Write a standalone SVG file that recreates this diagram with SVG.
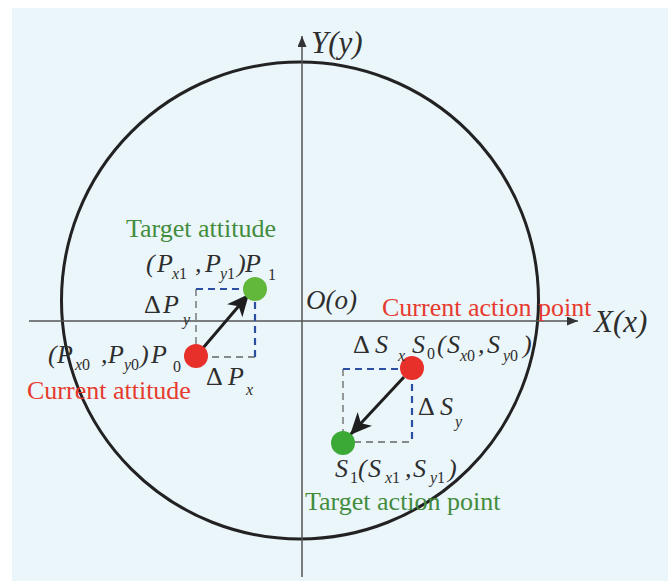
<svg xmlns="http://www.w3.org/2000/svg" width="668" height="581" viewBox="0 0 668 581">
<style>
.m{font-family:"Liberation Serif","Times New Roman",serif;font-style:italic;fill:#2e2e2e;font-size:26px}
.s{font-size:16px}
.n{font-style:normal}
.ax{font-family:"Liberation Serif","Times New Roman",serif;font-style:italic;fill:#2e2e2e;font-size:31px}
.red{font-family:"Liberation Serif","Times New Roman",serif;fill:#e63a2e;font-size:26px}
.grn{font-family:"Liberation Serif","Times New Roman",serif;fill:#438c3e;font-size:26px}
.axis{stroke:#555;stroke-width:1.5;fill:none}
.blue{stroke:#2c4ea3;stroke-width:2.2;stroke-dasharray:7 5;fill:none}
.gray{stroke:#666;stroke-width:1.3;stroke-dasharray:7 5;fill:none}
.arr{stroke:#1e1e1e;stroke-width:3;fill:none}
</style>
<defs>
<marker id="ah" markerUnits="userSpaceOnUse" markerWidth="26" markerHeight="22" refX="22" refY="10" orient="auto">
<path d="M0,0 L22,10 L0,20 L6,10 z" fill="#1e1e1e"/>
</marker>
<marker id="sa" markerUnits="userSpaceOnUse" markerWidth="12" markerHeight="10" refX="11" refY="4.5" orient="auto">
<path d="M0,0 L11,4.5 L0,9 z" fill="#333"/>
</marker>
</defs>
<rect x="12" y="8" width="656" height="573" fill="#ebf6fb"/>
<g id="axes">
<circle cx="300" cy="300.5" r="238.5" fill="none" stroke="#222" stroke-width="3"/>
<line class="axis" x1="29" y1="321" x2="578" y2="321" marker-end="url(#sa)"/>
<line class="axis" x1="302" y1="577" x2="302" y2="36" marker-end="url(#sa)"/>
<text class="ax" x="311" y="53">Y(y)</text>
<text class="ax" x="594" y="332">X(x)</text>
<text class="m" x="306" y="309" style="font-size:27px">O(o)</text>
</g>
<g id="connectors">
<path class="gray" d="M196,289 V357 H255"/>
<path class="blue" d="M196,289 H255 V357"/>
<path class="gray" d="M343,369 V442 H412"/>
<path class="blue" d="M343,369 H412 V442"/>
<line class="arr" x1="203" y1="348" x2="249" y2="294" marker-end="url(#ah)"/>
<line class="arr" x1="404" y1="377" x2="350" y2="435" marker-end="url(#ah)"/>
</g>
<g id="P1">
<circle cx="255" cy="289" r="12" fill="#62b83a"/>
<text class="grn" x="126" y="237">Target attitude</text>
<text class="m"><tspan x="146" y="272">(</tspan><tspan x="157" y="272">P</tspan><tspan class="s" x="172" y="279">x</tspan><tspan class="s n">1</tspan><tspan x="195" y="272">,</tspan><tspan x="205" y="272">P</tspan><tspan class="s" x="220" y="279">y</tspan><tspan class="s n">1</tspan><tspan x="237" y="272">)</tspan><tspan x="245" y="272">P</tspan><tspan class="s n" x="268" y="280">1</tspan></text>
<text class="m"><tspan class="n" x="144" y="313">Δ</tspan><tspan x="163" y="313">P</tspan><tspan class="s" x="183" y="325">y</tspan></text>
</g>
<g id="P0">
<circle cx="196" cy="356" r="12" fill="#e8302a"/>
<text class="red" x="27" y="399">Current attitude</text>
<text class="m"><tspan x="48" y="363">(</tspan><tspan x="57" y="363">P</tspan><tspan class="s" x="75" y="370">x</tspan><tspan class="s n">0</tspan><tspan x="101" y="363">,</tspan><tspan x="108" y="363">P</tspan><tspan class="s" x="124" y="370">y</tspan><tspan class="s n">0</tspan><tspan x="140" y="363">)</tspan><tspan x="151" y="363">P</tspan><tspan class="s n" x="173" y="372">0</tspan></text>
<text class="m"><tspan class="n" x="206" y="385">Δ</tspan><tspan x="228" y="385">P</tspan><tspan class="s" x="246" y="395">x</tspan></text>
</g>
<g id="S0">
<circle cx="412" cy="368" r="12" fill="#e8302a"/>
<text class="red" x="382" y="316">Current action point</text>
<text class="m"><tspan class="n" x="353" y="353">Δ</tspan><tspan x="375" y="353">S</tspan><tspan class="s" x="398" y="361">x</tspan></text>
<text class="m"><tspan x="412" y="353">S</tspan><tspan class="s n" x="427" y="359">0</tspan><tspan x="437" y="353">(</tspan><tspan x="447" y="353">S</tspan><tspan class="s" x="460" y="361">x</tspan><tspan class="s n">0</tspan><tspan x="478" y="353">,</tspan><tspan x="487" y="353">S</tspan><tspan class="s" x="503" y="361">y</tspan><tspan class="s n">0</tspan><tspan x="523" y="353">)</tspan></text>
<text class="m"><tspan class="n" x="418" y="415">Δ</tspan><tspan x="440" y="415">S</tspan><tspan class="s" x="455" y="427">y</tspan></text>
</g>
<g id="S1">
<circle cx="343" cy="443" r="12" fill="#3aa935"/>
<text class="grn" x="305" y="510">Target action point</text>
<text class="m"><tspan x="335" y="477">S</tspan><tspan class="s n" x="350" y="483">1</tspan><tspan x="358" y="477">(</tspan><tspan x="368" y="477">S</tspan><tspan class="s" x="385" y="483">x</tspan><tspan class="s n">1</tspan><tspan x="405" y="477">,</tspan><tspan x="413" y="477">S</tspan><tspan class="s" x="430" y="483">y</tspan><tspan class="s n">1</tspan><tspan x="448" y="477">)</tspan></text>
</g>
</svg>
